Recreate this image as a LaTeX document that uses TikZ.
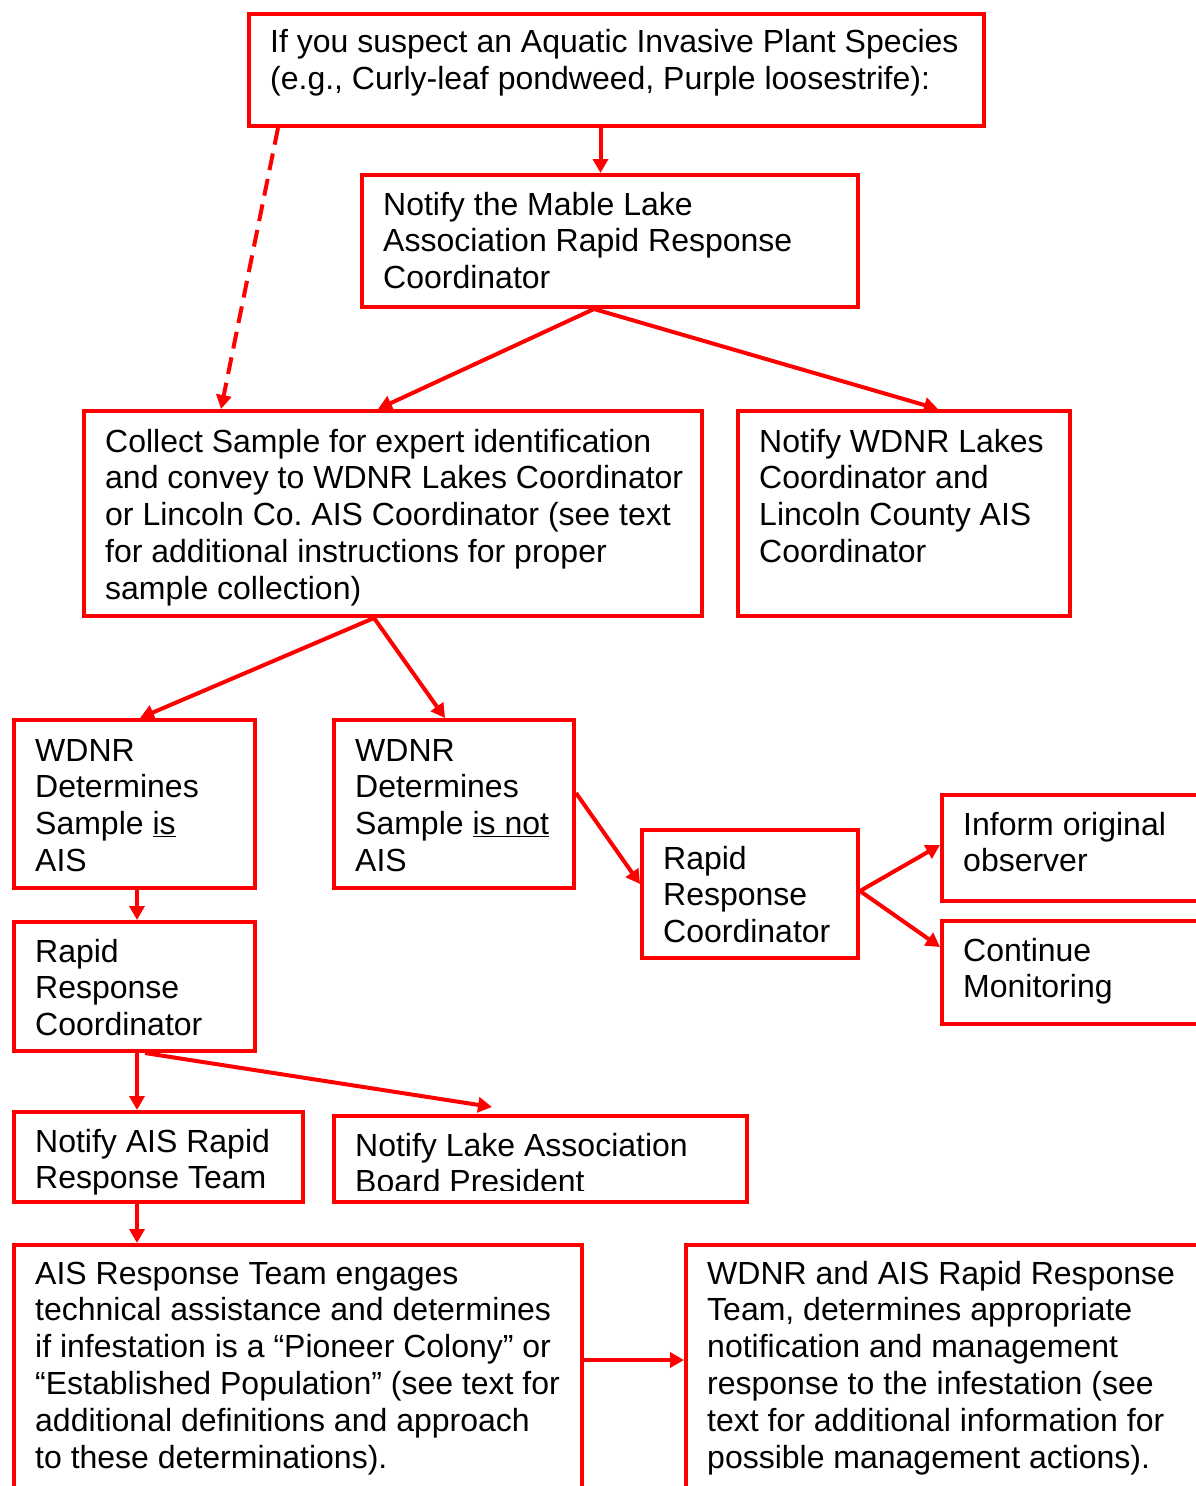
\documentclass[tikz,border=0pt]{standalone}
\usepackage{fontspec}
\setmainfont{Liberation Sans}
\usetikzlibrary{arrows.meta,calc}
\begin{document}
\begin{tikzpicture}[x=1pt,y=-1pt,
  box/.style={draw=red, line width=4pt, rectangle, inner sep=0pt},
  txt/.style={anchor=north west, inner sep=0pt, align=left, font=\fontsize{32}{36.8}\selectfont},
  arr/.style={draw=red, line width=4pt, -{Triangle[length=14pt,width=15pt]}},
  dasharr/.style={arr, dash pattern=on 17pt off 9pt}
]
\useasboundingbox (0,0) rectangle (1196,1486);
\clip (0,0) rectangle (1196,1486);
\fill[white] (0,0) rectangle (1196,1486);

% boxes
\node[box, minimum width=735pt, minimum height=112pt] (b1) at (616.5,70) {};
\node[box, minimum width=496pt, minimum height=132pt] (b2) at (610,241) {};
\node[box, minimum width=618pt, minimum height=205pt] (b3) at (393,513.5) {};
\node[box, minimum width=332pt, minimum height=205pt] (b4) at (904,513.5) {};
\node[box, minimum width=241pt, minimum height=168pt] (b5) at (134.5,804) {};
\node[box, minimum width=240pt, minimum height=168pt] (b6) at (454,804) {};
\node[box, minimum width=216pt, minimum height=128pt] (b7) at (750,894) {};
\node[box, minimum width=278pt, minimum height=106pt] (b8) at (1081,848) {};
\node[box, minimum width=278pt, minimum height=103pt] (b9) at (1081,972.5) {};
\node[box, minimum width=241pt, minimum height=129pt] (b10) at (134.5,986.5) {};
\node[box, minimum width=289pt, minimum height=90pt] (b11) at (158.5,1157) {};
\node[box, minimum width=413pt, minimum height=86pt] (b12) at (540.5,1159) {};
\node[box, minimum width=568pt, minimum height=275pt] (b13) at (298,1382.5) {};
\node[box, minimum width=534pt, minimum height=275pt] (b14) at (953,1382.5) {};

% texts
\node[txt] (t1) at (270,27) {\strut If you suspect an Aquatic Invasive Plant Species\\(e.g., Curly-leaf pondweed, Purple loosestrife):};
\node[txt] (t2) at (383,189.2) {\strut Notify the Mable Lake\\Association Rapid Response\\Coordinator};
\node[txt] (t3) at (105,426.2) {\strut Collect Sample for expert identification\\and convey to WDNR Lakes Coordinator\\or Lincoln Co.\ AIS Coordinator (see text\\for additional instructions for proper\\sample collection)};
\node[txt] (t4) at (759,426.2) {\strut Notify WDNR Lakes\\Coordinator and\\Lincoln County AIS\\Coordinator};
\node[txt] (t5) at (35,735.2) {\strut WDNR\\Determines\\Sample \underline{is}\\AIS};
\node[txt] (t6) at (355,735.2) {\strut WDNR\\Determines\\Sample \underline{is not}\\AIS};
\node[txt] (t7) at (663,843.2) {\strut Rapid\\Response\\Coordinator};
\node[txt] (t8) at (963,809.2) {\strut Inform original\\observer};
\node[txt] (t9) at (963,935.2) {\strut Continue\\Monitoring};
\node[txt] (t10) at (35,936.2) {\strut Rapid\\Response\\Coordinator};
\node[txt] (t11) at (35,1126.2) {\strut Notify AIS Rapid\\Response Team};
\begin{scope}
\clip (330,1100) rectangle (760,1190);
\node[txt] (t12) at (355,1130.2) {\strut Notify Lake Association\\Board President};
\end{scope}
\node[txt] (t13) at (35,1258.2) {\strut AIS Response Team engages\\technical assistance and determines\\if infestation is a “Pioneer Colony” or\\“Established Population” (see text for\\additional definitions and approach\\to these determinations).};
\node[txt] (t14) at (707,1258.2) {\strut WDNR and AIS Rapid Response\\Team, determines appropriate\\notification and management\\response to the infestation (see\\text for additional information for\\possible management actions).};

% connectors
\draw[arr] ([xshift=-16pt]b1.south) -- ([xshift=-16pt]b1.south |- b2.north);
\draw[dasharr] ([xshift=-338.5pt]b1.south) -- ([xshift=-172pt]b3.north);
\draw[arr] ([xshift=-16pt]b2.south) -- ([xshift=-15pt]b3.north);
\draw[arr] ([xshift=-16pt]b2.south) -- ([xshift=34pt]b4.north);
\draw[arr] ([xshift=-19pt]b3.south) -- ([xshift=5.5pt]b5.north);
\draw[arr] ([xshift=-19pt]b3.south) -- ([xshift=-9pt]b6.north);
\draw[arr] ([xshift=2.5pt]b5.south) -- ([xshift=2.5pt]b5.south |- b10.north);
\draw[arr] ([yshift=11pt]b6.east) -- ([yshift=10pt]b7.west);
\draw[arr] ([yshift=3pt]b7.east) -- ([yshift=3pt]b8.west);
\draw[arr] ([yshift=3pt]b7.east) -- ([yshift=25.5pt]b9.west);
\draw[arr] ([xshift=2.5pt]b10.south) -- ([xshift=2.5pt]b10.south |- b11.north);
\draw[arr] ([xshift=10.5pt]b10.south) -- ([xshift=-48.5pt,yshift=7pt]b12.north);
\draw[arr] ([xshift=-21.5pt]b11.south) -- ([xshift=-21.5pt]b11.south |- b13.north);
\draw[arr] ([yshift=22.5pt]b13.east) -- ([yshift=22.5pt]b13.east -| b14.west);
\end{tikzpicture}
\end{document}
